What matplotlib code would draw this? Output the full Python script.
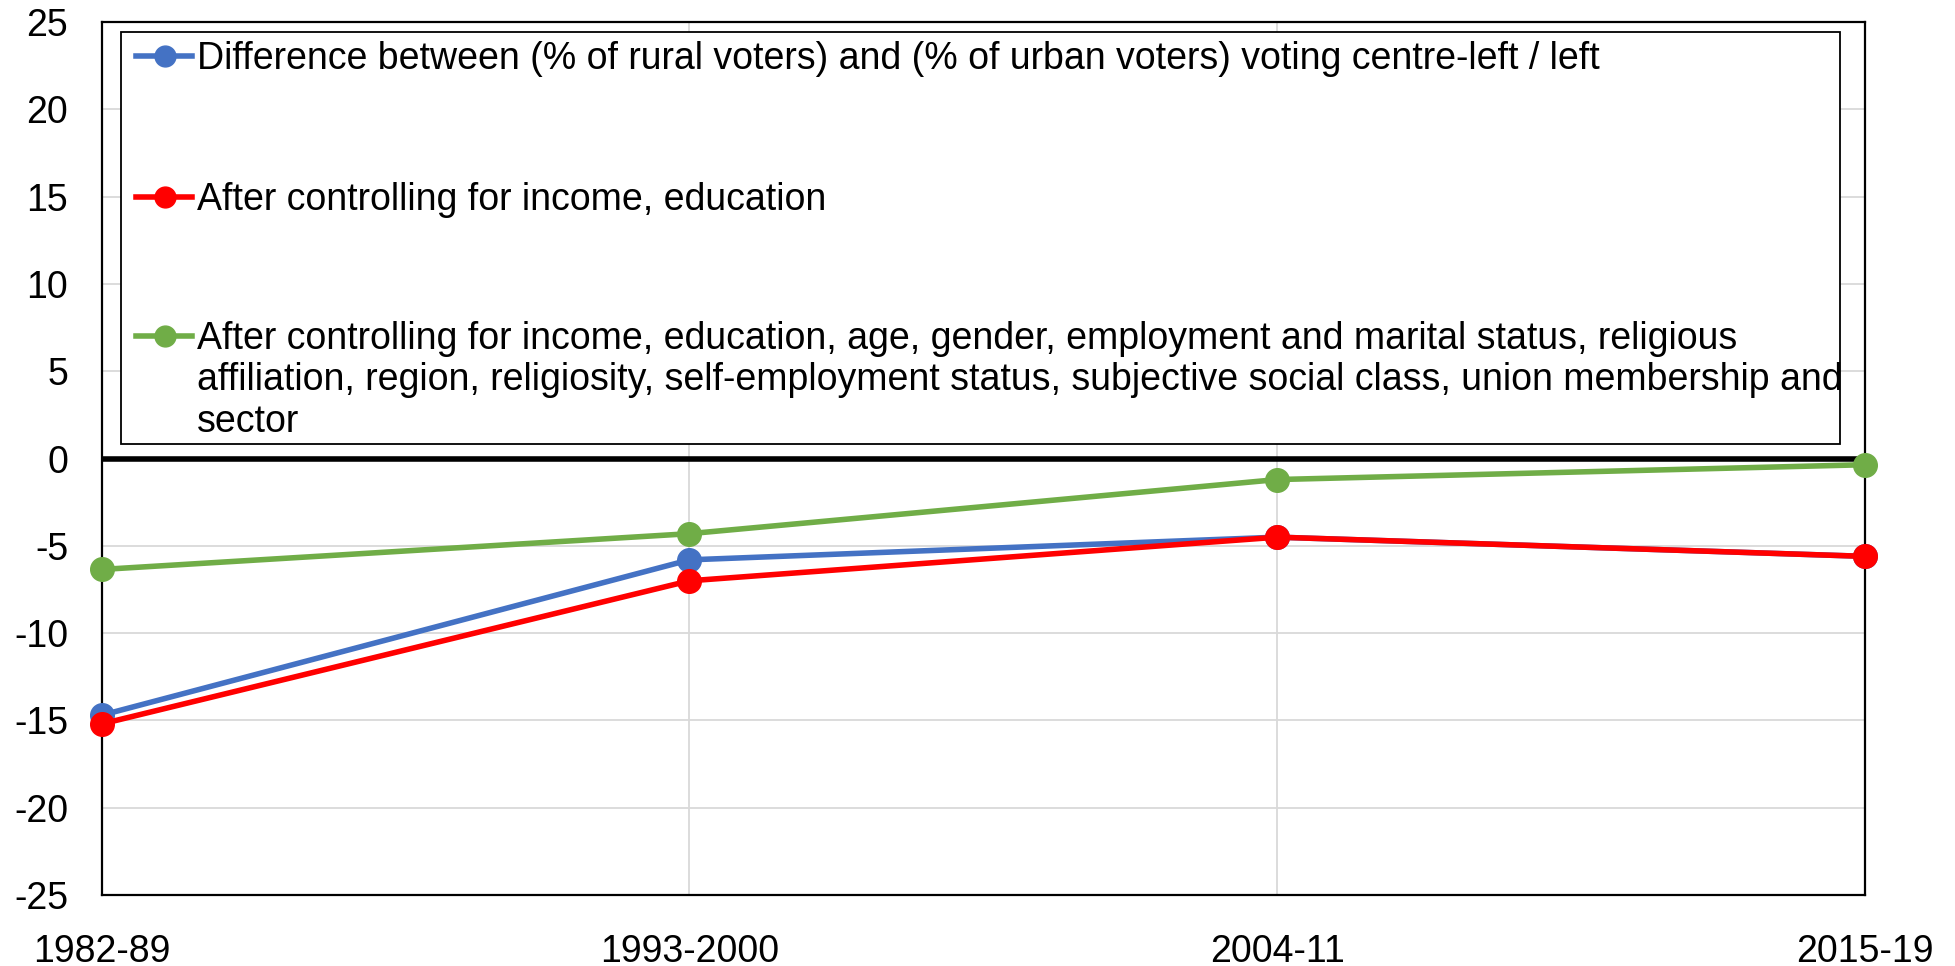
import matplotlib.pyplot as plt
from matplotlib.lines import Line2D
from matplotlib.patches import Rectangle

plt.rcParams['font.family'] = ['Liberation Sans', 'DejaVu Sans']
plt.rcParams['axes.unicode_minus'] = False

periods = ['1982-89', '1993-2000', '2004-11', '2015-19']
raw_gap = [-14.7, -5.8, -4.5, -5.6]
ctrl_income_edu = [-15.2, -7.0, -4.5, -5.6]
ctrl_all = [-6.35, -4.3, -1.2, -0.35]

labels = [
    'Difference between (% of rural voters) and (% of urban voters) voting centre-left / left',
    'After controlling for income, education',
    'After controlling for income, education, age, gender, employment and marital status, religious\n'
    'affiliation, region, religiosity, self-employment status, subjective social class, union membership and\n'
    'sector',
]
colors = ['#4472C4', '#FF0000', '#70AD47']

fig = plt.figure(figsize=(19.55, 9.66), dpi=100)
ax = fig.add_axes([0.052, 0.0735, 0.902, 0.9035])

x = list(range(len(periods)))
for ys, c in zip([raw_gap, ctrl_income_edu, ctrl_all], colors):
    ax.plot(x, ys, color=c, lw=4, marker='o', ms=17, zorder=3, clip_on=False)

ax.axhline(0, color='black', lw=4, zorder=2)

ax.set_xlim(0, 3)
ax.set_ylim(-25, 25)
ax.set_yticks(range(-25, 26, 5))
ax.set_xticks(x)
ax.set_xticklabels(periods)
ax.grid(True, color='#d9d9d9', lw=1.3, zorder=0)
ax.set_axisbelow(True)
ax.tick_params(length=0, labelsize=27)
ax.tick_params(axis='y', pad=24)
ax.tick_params(axis='x', pad=28)
for s in ax.spines.values():
    s.set_color('black')
    s.set_linewidth(1.6)

# legend box drawn by hand so the green key sits on the first text line
ax.add_patch(Rectangle((0.0108, 0.5166), 0.975, 0.472, transform=ax.transAxes,
                       facecolor='white', edgecolor='black', lw=1.3, zorder=4))
key_y = [0.9608, 0.7995, 0.6403]
for ky, c, lab in zip(key_y, colors, labels):
    ax.add_line(Line2D([0.0193, 0.0511], [ky, ky], transform=ax.transAxes, color=c,
                       lw=4, zorder=5))
    ax.add_line(Line2D([0.0357], [ky], transform=ax.transAxes, color=c,
                       marker='o', ms=15, zorder=5))
    ax.text(0.0539, ky + 0.0175, lab, transform=ax.transAxes, fontsize=27, va='top',
            linespacing=1.2, zorder=6)

fig.savefig('out.png', dpi=100)
